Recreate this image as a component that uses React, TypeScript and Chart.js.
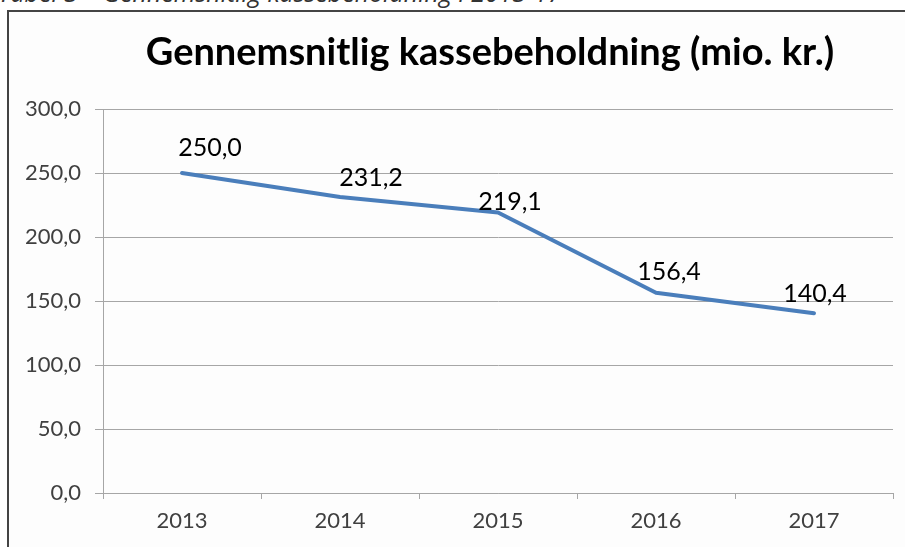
import React, { useEffect, useRef } from "react";
import { Chart, registerables } from "chart.js";

Chart.register(...registerables);

const caption = "Tabel 3 – Gennemsnitlig kassebeholdning i 2013-17";
const chartTitle = "Gennemsnitlig kassebeholdning (mio. kr.)";
const years = ["2013", "2014", "2015", "2016", "2017"];
const cashHoldings = [250.0, 231.2, 219.1, 156.4, 140.4];
const yTickMin = 0;
const yTickMax = 300;
const yTickStep = 50;
// label placement offsets (px) relative to each point, mimicking the source
const labelDx = [28, 31, 12, 13, 1];
const labelDy = [-25, -19, -11, -21, -19];

const fmt = (v: number) => v.toFixed(1).replace(".", ",");

const valueLabels = {
  id: "valueLabels",
  afterDatasetsDraw(chart: any) {
    const ctx = chart.ctx;
    const meta = chart.getDatasetMeta(0);
    const ds = chart.data.datasets[0];
    ctx.save();
    ctx.font = "25px Lato, 'Open Sans', sans-serif";
    ctx.fillStyle = "#000000";
    ctx.textAlign = "center";
    ctx.textBaseline = "middle";
    meta.data.forEach((pt: any, i: number) => {
      ctx.fillText(fmt(ds.data[i] as number), pt.x + labelDx[i], pt.y + labelDy[i]);
    });
    ctx.restore();
  },
};

const centeredTitle = {
  id: "centeredTitle",
  afterDraw(chart: any) {
    const { ctx, chartArea } = chart;
    ctx.save();
    ctx.font = "bold 38px Lato, 'Open Sans', sans-serif";
    ctx.fillStyle = "#000000";
    ctx.textAlign = "center";
    ctx.textBaseline = "middle";
    ctx.fillText(chartTitle, (chartArea.left + chartArea.right) / 2 - 8, chartArea.top - 56);
    ctx.restore();
  },
};

export default function App() {
  const ref = useRef<HTMLCanvasElement | null>(null);
  useEffect(() => {
    if (!ref.current) return;
    const chart = new Chart(ref.current, {
      type: "line",
      data: {
        labels: years,
        datasets: [
          {
            data: cashHoldings,
            borderColor: "#4a7ebb",
            borderWidth: 4,
            pointRadius: 0,
            tension: 0,
            fill: false,
            borderCapStyle: "round",
            borderJoinStyle: "round",
          },
        ],
      },
      options: {
        responsive: false,
        animation: false,
        layout: { padding: { left: 10, right: 12, top: 109, bottom: 0 } },
        plugins: {
          legend: { display: false },
          tooltip: { enabled: false },
          title: { display: false },
        },
        scales: {
          x: {
            offset: true,
            grid: {
              offset: true,
              drawOnChartArea: false,
              drawTicks: true,
              tickLength: 6,
              color: "#a6a6a6",
            },
            border: { color: "#a6a6a6", width: 1 },
            ticks: {
              color: "#404040",
              font: { family: "Lato, 'Open Sans', sans-serif", size: 22 },
              padding: 9,
              maxRotation: 0,
            },
            afterFit: (s: any) => {
              s.height = 54;
            },
          },
          y: {
            min: yTickMin,
            max: yTickMax,
            ticks: {
              stepSize: yTickStep,
              color: "#404040",
              font: { family: "Lato, 'Open Sans', sans-serif", size: 22 },
              padding: 14,
              callback: (v: any) => fmt(Number(v)),
            },
            grid: { color: "#a6a6a6", tickLength: 8, drawTicks: true },
            border: { color: "#a6a6a6", width: 1 },
            afterFit: (s: any) => {
              s.width = 93;
            },
          },
        },
      },
      plugins: [valueLabels, centeredTitle],
    });
    return () => chart.destroy();
  }, []);

  return (
    <div
      style={{
        position: "fixed",
        left: 0,
        top: 0,
        width: 905,
        height: 547,
        overflow: "hidden",
        background: "#ffffff",
      }}
    >
      <div
        style={{
          position: "absolute",
          left: -2,
          top: -20,
          fontFamily: "'Open Sans', 'Liberation Sans', sans-serif",
          fontStyle: "italic",
          fontSize: 25,
          lineHeight: "25px",
          color: "#333333",
          whiteSpace: "nowrap",
        }}
      >
        {caption}
      </div>
      <div
        style={{
          position: "absolute",
          left: 7,
          top: 10,
          width: 1000,
          height: 1000,
          border: "2px solid #444444",
          background: "#fdfdfd",
        }}
      />
      <canvas
        ref={ref}
        width={905}
        height={547}
        style={{ position: "absolute", left: 0, top: 0, width: 905, height: 547 }}
      />
    </div>
  );
}
